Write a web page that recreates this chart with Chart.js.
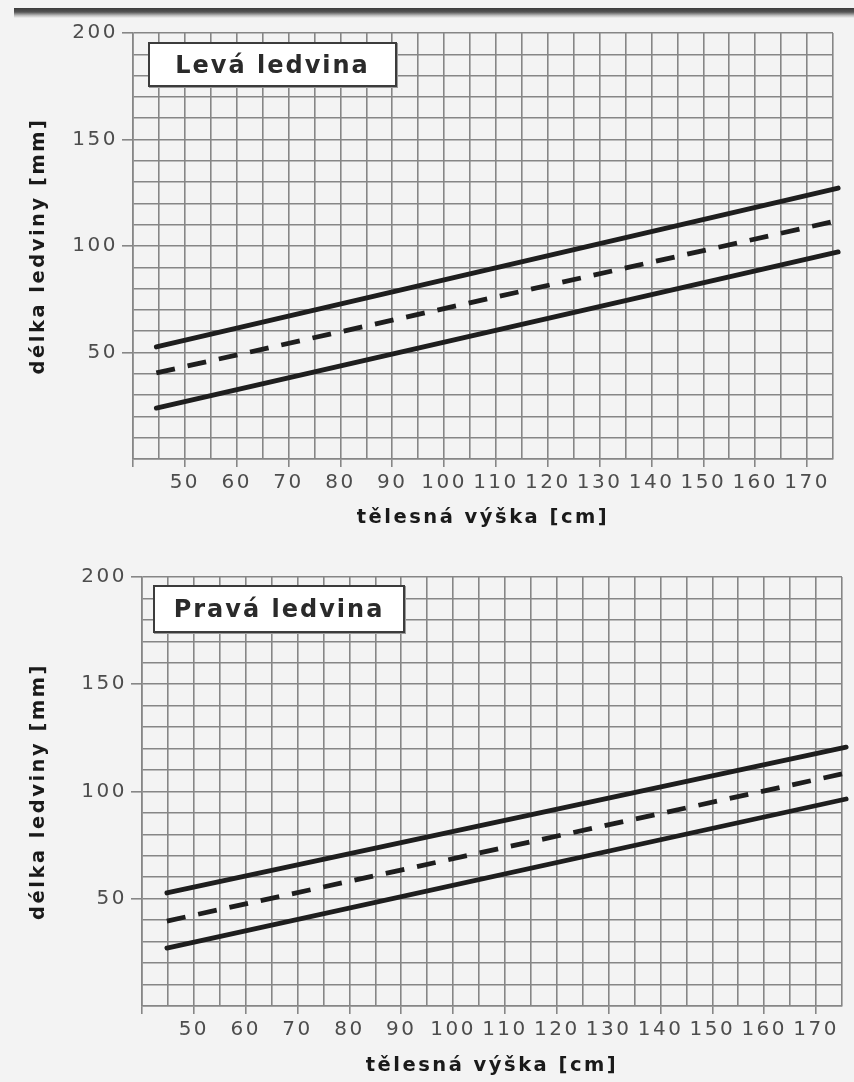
<!DOCTYPE html>
<html>
<head>
<meta charset="utf-8">
<script src="https://cdn.jsdelivr.net/npm/chart.js@4.4.1/dist/chart.umd.min.js"></script>
<style>
  html, body { margin: 0; padding: 0; background: #f3f3f3; }
  #page { position: relative; width: 854px; height: 1082px; overflow: hidden; background: #f3f3f3; }
  #band { position: absolute; left: 14px; right: 0; top: 8px; height: 10px;
          background: linear-gradient(to bottom, #3a3a3a 0%, #555 40%, #bdbdbd 75%, #f3f3f3 100%); }
  canvas { position: absolute; left: 0; }
  .box { position: absolute; box-sizing: border-box; border: 2px solid #3c3c3c; background: #fff;
         box-shadow: 1px 1px 0 #9a9a9a; font-family: "DejaVu Sans", sans-serif; font-weight: bold;
         font-size: 24px; letter-spacing: 2px; color: #2a2a2a; display: flex; align-items: center; justify-content: center; }
</style>
</head>
<body>
<div id="page">
  <div id="band"></div>
  <canvas id="c1" width="854" height="541" style="top:0"></canvas>
  <canvas id="c2" width="854" height="541" style="top:541px"></canvas>
  <div class="box" style="left:148px;top:42px;width:249px;height:45px;">Levá ledvina</div>
  <div class="box" style="left:153px;top:585px;width:252px;height:48px;">Pravá ledvina</div>
</div>
<script>
// ---- data ----
const xLabelTitle = "tělesná výška [cm]";
const yLabelTitle = "délka ledviny [mm]";
const xTickLabels = [50, 60, 70, 80, 90, 100, 110, 120, 130, 140, 150, 160, 170];
const yTickLabels = [50, 100, 150, 200];

const leftHeights = [44.5, 176];
const leftUpper   = [52.6, 127.2];
const leftMedian  = [40.4, 112.0];
const leftLower   = [23.9, 97.2];

const rightHeights = [44.8, 175.8];
const rightUpper   = [52.7, 120.7];
const rightMedian  = [39.6, 108.6];
const rightLower   = [27.0, 96.5];

// ---- helpers ----
function pts(xs, ys) { return xs.map((x, i) => ({ x: x, y: ys[i] })); }

const spacingPlugin = {
  id: 'spacing',
  beforeLayout(chart) { chart.ctx.letterSpacing = '2.5px'; },
  beforeDraw(chart) { chart.ctx.letterSpacing = '2.5px'; }
};

function makeChart(id, heights, upper, median, lower, geo) {
  const lineColor = '#1e1e1e';
  const gridColor = '#868686';
  return new Chart(document.getElementById(id), {
    type: 'line',
    data: {
      datasets: [
        { data: pts(heights, upper), borderColor: lineColor, borderWidth: 4.8, pointRadius: 0, clip: false, borderCapStyle: 'round' },
        { data: pts(heights, median), borderColor: lineColor, borderWidth: 4.8, pointRadius: 0, clip: false, borderDash: [19, 13] },
        { data: pts(heights, lower), borderColor: lineColor, borderWidth: 4.8, pointRadius: 0, clip: false, borderCapStyle: 'round' }
      ]
    },
    plugins: [spacingPlugin],
    options: {
      responsive: false,
      animation: false,
      devicePixelRatio: 1,
      layout: { padding: { left: 0, top: geo.top, right: geo.right, bottom: 0 } },
      plugins: { legend: { display: false }, tooltip: { enabled: false } },
      scales: {
        x: {
          type: 'linear', min: 40, max: 175,
          afterFit(s) { s.height = geo.xh; },
          border: { display: true, color: gridColor, width: 1.6 },
          grid: {
            color: gridColor, lineWidth: 1.6, tickLength: 8,
            tickColor: c => (c.tick && c.tick.value % 10 === 0 && c.tick.value >= 40 && c.tick.value <= 170) ? gridColor : 'rgba(0,0,0,0)'
          },
          ticks: {
            stepSize: 5, autoSkip: false, maxRotation: 0, padding: 4,
            color: '#4d4d4d', font: { family: 'DejaVu Sans', size: 20 },
            callback: v => xTickLabels.includes(v) ? String(v) : ''
          },
          title: {
            display: true, text: xLabelTitle, color: '#1a1a1a',
            font: { family: 'DejaVu Sans', size: 19.5, weight: 'bold' },
            padding: { top: 0, bottom: geo.xtp }
          }
        },
        y: {
          type: 'linear', min: 0, max: 200,
          afterFit(s) { s.width = geo.left; },
          border: { display: true, color: gridColor, width: 1.6 },
          grid: {
            color: gridColor, lineWidth: 1.6, tickLength: 11,
            tickColor: c => (c.tick && yTickLabels.includes(c.tick.value)) ? gridColor : 'rgba(0,0,0,0)'
          },
          ticks: {
            stepSize: 10, autoSkip: false, padding: 4,
            color: '#4d4d4d', font: { family: 'DejaVu Sans', size: 20 },
            callback: v => yTickLabels.includes(v) ? String(v) : ''
          },
          title: {
            display: true, text: yLabelTitle, color: '#1a1a1a',
            font: { family: 'DejaVu Sans', size: 19.5, weight: 'bold' },
            padding: { top: 27, bottom: 0 }
          }
        }
      }
    }
  });
}

makeChart('c1', leftHeights, leftUpper, leftMedian, leftLower, { top: 33, right: 21, left: 133, xh: 82, xtp: 11 });
makeChart('c2', rightHeights, rightUpper, rightMedian, rightLower, { top: 36, right: 12, left: 142, xh: 76, xtp: 4 });
</script>
</body>
</html>
